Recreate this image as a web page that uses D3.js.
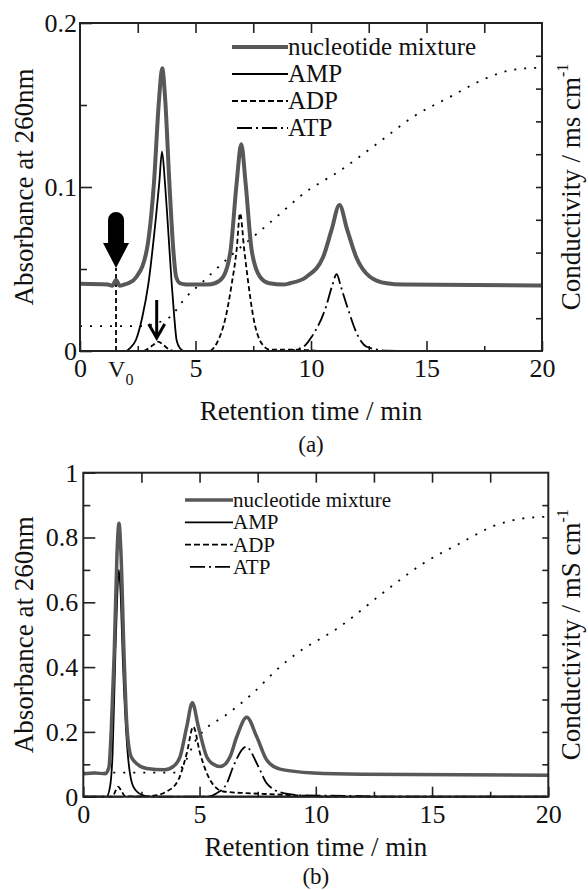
<!DOCTYPE html>
<html>
<head>
<meta charset="utf-8">
<script src="https://cdn.jsdelivr.net/npm/d3@7"></script>
<style>
body { margin: 0; background: #fff; }
svg, svg text { font-family: "Liberation Serif", "Times New Roman", Times, "DejaVu Serif", serif; }
</style>
</head>
<body>
<svg id="chart"></svg>
<script>
const width = 588;
const height = 890;

// ---- panel (a): [retention time (min), absorbance] ----
const mixA = [[0, 0.041], [1.2, 0.0405], [1.4, 0.0398], [1.56, 0.0433], [1.72, 0.0398], [1.9, 0.0405],
    [2.09, 0.0413], [2.45, 0.0453], [2.89, 0.0616], [3.2, 0.1022], [3.42, 0.153], [3.56, 0.1724],
    [3.69, 0.153], [3.87, 0.1022], [4.04, 0.0616], [4.16, 0.0453], [4.33, 0.0413], [4.6, 0.0405],
    [5.5, 0.0405], [5.84, 0.0413], [6.2, 0.0453], [6.52, 0.0616], [6.78, 0.1022], [6.98, 0.126],
    [7.17, 0.1022], [7.43, 0.0616], [7.79, 0.0453], [8.2, 0.0413], [8.8, 0.0405], [9.09, 0.0413],
    [9.81, 0.0453], [10.53, 0.0575], [10.89, 0.0738], [11.23, 0.089], [11.57, 0.0738], [11.95, 0.0575],
    [12.55, 0.0453], [13.27, 0.0413], [14, 0.0405], [20, 0.040]];
const ampA = [[0, 0], [2.0, 0], [2.16, 0.0017], [2.42, 0.0067], [2.7, 0.0209], [2.96, 0.041],
    [3.29, 0.0819], [3.43, 0.1022], [3.55, 0.1215], [3.68, 0.1022], [3.78, 0.0819], [3.97, 0.041],
    [4.08, 0.0209], [4.18, 0.0067], [4.33, 0.0017], [4.5, 0], [20, 0]];
const adpA = [[0, 0], [2.7, 0], [2.9, 0.001], [3.15, 0.0035], [3.38, 0.0057], [3.62, 0.0035],
    [3.85, 0.001], [4.05, 0], [5.6, 0], [5.7, 0.0006], [5.92, 0.0047], [6.31, 0.0209], [6.57, 0.041],
    [6.78, 0.0616], [6.93, 0.084], [7.11, 0.0616], [7.29, 0.041], [7.5, 0.0209], [7.86, 0.0047],
    [8.23, 0.0008], [9.5, 0.0008], [10.5, 0], [20, 0]];
const atpA = [[0, 0], [9.0, 0], [9.09, 0.0002], [9.67, 0.0026], [10.03, 0.0087], [10.65, 0.027],
    [10.9, 0.039], [11.11, 0.0468], [11.3, 0.039], [11.57, 0.027], [12.05, 0.0087], [12.41, 0.0026],
    [13.27, 0.0002], [14.5, 0], [20, 0]];
// conductivity, right axis in tick units (10 divisions, unlabeled)
const condA = [[0, 0.76], [2.8, 0.76], [3.3, 0.85], [3.9, 1.04], [4.6, 1.65], [5.3, 2.1], [5.9, 2.5],
    [6.6, 2.95], [7.7, 3.6], [9.0, 4.39], [9.5, 4.7], [11.3, 5.52], [12.9, 6.34], [14.4, 7.13],
    [16.0, 7.74], [17.6, 8.32], [18.7, 8.57], [19.8, 8.63], [20, 8.63]];

// ---- panel (b) ----
const mixB = [[0, 0.071], [0.5, 0.073], [0.95, 0.071], [1.1, 0.09], [1.2, 0.2], [1.33, 0.443],
    [1.45, 0.751], [1.535, 0.844], [1.62, 0.751], [1.75, 0.443], [1.86, 0.237], [2.01, 0.134],
    [2.15, 0.113], [2.72, 0.087], [3.5, 0.083], [3.9, 0.095], [4.16, 0.123], [4.45, 0.216],
    [4.69, 0.29], [4.95, 0.216], [5.31, 0.123], [5.6, 0.1], [5.88, 0.093], [6.1, 0.1], [6.31, 0.123],
    [6.6, 0.185], [7.03, 0.245], [7.46, 0.185], [7.89, 0.113], [8.46, 0.085], [9.9, 0.073],
    [12, 0.069], [20, 0.066]];
const ampB = [[0, 0], [1.0, 0], [1.15, 0.031], [1.26, 0.134], [1.38, 0.443], [1.46, 0.62],
    [1.53, 0.70], [1.61, 0.62], [1.69, 0.443], [1.91, 0.134], [2.15, 0.031], [2.51, 0.006],
    [2.9, 0], [20, 0]];
const adpB = [[0, 0], [1.25, 0], [1.4, 0.02], [1.5, 0.031], [1.62, 0.02], [1.8, 0.002], [2.5, 0.001],
    [3.01, 0.003], [3.59, 0.016], [4.09, 0.052], [4.45, 0.134], [4.73, 0.216], [5.02, 0.134],
    [5.45, 0.052], [6.02, 0.016], [7.0, 0.011], [8.0, 0.008], [9.5, 0.003], [11, 0], [20, 0]];
const atpB = [[0, 0], [5.3, 0], [5.74, 0.011], [6.17, 0.041], [6.45, 0.093], [7.0, 0.154],
    [7.53, 0.093], [7.89, 0.041], [8.6, 0.011], [9.5, 0.004], [12, 0.002], [13, 0], [20, 0]];
const condB = [[0, 0.74], [4.0, 0.74], [4.4, 1.1], [4.8, 1.7], [5.2, 2.05], [6.1, 2.5], [7.3, 3.2],
    [8.46, 4.01], [9.1, 4.38], [11.04, 5.25], [13.05, 6.38], [14.62, 7.2], [16.2, 7.82],
    [17.78, 8.39], [18.92, 8.59], [20, 8.64]];

// ticks and labels
const xTicks = [0, 5, 10, 15, 20];
const xMinorTicks = [2.5, 7.5, 12.5, 17.5];
const xTopTicks = [2.5, 5, 7.5, 10, 12.5, 15, 17.5];
const yTicksA = [0, 0.1, 0.2];
const yMinorA = [0.05, 0.15];
const yTicksB = [0, 0.2, 0.4, 0.6, 0.8, 1];
const yMinorB = [0.1, 0.3, 0.5, 0.7, 0.9];
const condTicks = [1, 2, 3, 4, 5, 6, 7, 8, 9];
const legendNames = ["nucleotide mixture", "AMP", "ADP", "ATP"];

// V0 marker and arrows in (a)
const v0Time = 1.56;
const v0ArrowTip = 0.0506;
const smallArrow = [3.32, 0.0067];

const FONT = "'Liberation Serif', 'Times New Roman', Times, serif";

const svg = d3.select("#chart").attr("width", width).attr("height", height)
    .attr("font-family", FONT);

const styles = [
    {stroke: "#585858", width: 4, dash: null},
    {stroke: "#000", width: 1.8, dash: null},
    {stroke: "#000", width: 1.8, dash: "5,3"},
    {stroke: "#000", width: 1.8, dash: "15,4,2,4"}
];

function styleAxis(sel, fontSize) {
    sel.attr("font-size", null).attr("font-family", FONT);
    sel.select(".domain").remove();
    sel.selectAll(".tick line").attr("stroke", "#222").attr("stroke-width", 1.6);
    sel.selectAll(".tick text").attr("fill", "#111").style("font-size", fontSize + "px");
}

function addText(g, fontSize) {
    return g.append("text").attr("font-family", FONT)
        .style("font-size", fontSize + "px").attr("fill", "#111");
}

function drawPanel(p) {
    const g = svg.append("g");
    const x = d3.scaleLinear().domain([0, 20]).range([p.left, p.right]);
    const y = d3.scaleLinear().domain([0, p.yMax]).range([p.bottom, p.top]);
    const yc = d3.scaleLinear().domain([0, 10]).range([p.bottom, p.top]);

    // axes, ticks pointing inward
    g.append("g").attr("transform", `translate(0,${p.bottom})`)
        .call(d3.axisBottom(x).tickValues(xTicks).tickSize(-10).tickPadding(8).tickFormat(d3.format("d")))
        .call(s => styleAxis(s, 26));
    g.append("g").attr("transform", `translate(0,${p.bottom})`)
        .call(d3.axisBottom(x).tickValues(xMinorTicks).tickSize(-5).tickFormat(""))
        .call(s => styleAxis(s, 26));
    g.append("g").attr("transform", `translate(0,${p.top})`)
        .call(d3.axisTop(x).tickValues(xTopTicks).tickSize(-10).tickFormat(""))
        .call(s => styleAxis(s, 26));
    g.append("g").attr("transform", `translate(${p.left},0)`)
        .call(d3.axisLeft(y).tickValues(p.yTicks).tickSize(-12).tickPadding(p.yPad).tickFormat(d => String(d)))
        .call(s => styleAxis(s, 26));
    g.append("g").attr("transform", `translate(${p.left},0)`)
        .call(d3.axisLeft(y).tickValues(p.yMinor).tickSize(-7).tickFormat(""))
        .call(s => styleAxis(s, 26));
    g.append("g").attr("transform", `translate(${p.right},0)`)
        .call(d3.axisRight(yc).tickValues(condTicks).tickSize(-6).tickFormat(""))
        .call(s => styleAxis(s, 26));

    const line = d3.line().x(d => x(d[0])).y(d => y(d[1])).curve(d3.curveMonotoneX);
    const condLine = d3.line().x(d => x(d[0])).y(d => yc(d[1])).curve(d3.curveMonotoneX);

    g.append("path").datum(p.cond)
        .attr("fill", "none").attr("stroke", "#000").attr("stroke-width", 1.8)
        .attr("stroke-dasharray", "2,8").attr("d", condLine);

    if (p.annot) p.annot(g, x, y);

    const series = [p.mix, p.amp, p.adp, p.atp];
    [3, 2, 1, 0].forEach(i => {
        g.append("path").datum(series[i])
            .attr("fill", "none")
            .attr("stroke", styles[i].stroke)
            .attr("stroke-width", i === 0 ? p.mixWidth : styles[i].width)
            .attr("stroke-dasharray", styles[i].dash)
            .attr("stroke-linejoin", "round")
            .attr("d", line);
    });

    // frame
    g.append("rect")
        .attr("x", p.left).attr("y", p.top)
        .attr("width", p.right - p.left).attr("height", p.bottom - p.top)
        .attr("fill", "none").attr("stroke", "#222").attr("stroke-width", 2);

    // legend
    legendNames.forEach((name, i) => {
        const ly = p.legY + i * p.legStep;
        g.append("line")
            .attr("x1", p.legX1 + (i === 3 ? 5 : 0)).attr("x2", p.legX2)
            .attr("y1", ly).attr("y2", ly)
            .attr("stroke", styles[i].stroke)
            .attr("stroke-width", i === 0 ? p.mixWidth : styles[i].width)
            .attr("stroke-dasharray", i === 2 ? "6,3" : styles[i].dash);
        addText(g, p.legFont)
            .attr("x", p.legX2).attr("y", ly + p.legFont * 0.33)
            .text(name);
    });

    // axis titles
    const cx = (p.left + p.right) / 2;
    const cy = (p.top + p.bottom) / 2;
    addText(g, 27).attr("x", cx).attr("y", p.xTitleY)
        .attr("text-anchor", "middle")
        .text("Retention time / min");
    addText(g, 27).attr("transform", `translate(33,${cy}) rotate(-90)`)
        .attr("text-anchor", "middle")
        .text("Absorbance at 260nm");
    const rt = addText(g, 27).attr("transform", `translate(580,${cy}) rotate(-90)`)
        .attr("text-anchor", "middle");
    rt.append("tspan").text(p.condLabel);
    rt.append("tspan").attr("dy", -12).style("font-size", "16px").text("-1");
    addText(g, 23).attr("x", cx).attr("y", p.panelY)
        .attr("text-anchor", "middle")
        .text(p.panel);
}

drawPanel({
    left: 80, right: 542, top: 23, bottom: 351, yMax: 0.2,
    yTicks: yTicksA, yMinor: yMinorA, yPad: 3,
    mix: mixA, amp: ampA, adp: adpA, atp: atpA, cond: condA, mixWidth: 4,
    legX1: 232, legX2: 288, legY: 47, legStep: 27, legFont: 25,
    xTitleY: 420, panelY: 452, panel: "(a)",
    condLabel: "Conductivity / ms cm",
    annot: (g, x, y) => {
        const vx = x(v0Time);
        // dashed V0 marker
        g.append("line").attr("x1", vx).attr("x2", vx)
            .attr("y1", y(0)).attr("y2", y(v0ArrowTip))
            .attr("stroke", "#000").attr("stroke-width", 1.8).attr("stroke-dasharray", "5,3");
        // big arrow
        const ty = y(v0ArrowTip);
        g.append("path")
            .attr("d", `M${vx},${ty} L${vx - 13},${ty - 25} L${vx - 8},${ty - 25} L${vx - 8},${ty - 48}
                A8,8 0 0 1 ${vx + 8},${ty - 48} L${vx + 8},${ty - 25} L${vx + 13},${ty - 25} Z`)
            .attr("fill", "#000");
        // small arrow
        const sx = x(smallArrow[0]), sy = y(smallArrow[1]);
        g.append("path")
            .attr("d", `M${sx},${sy - 40} L${sx},${sy - 2} M${sx - 8},${sy - 16} L${sx},${sy - 2} L${sx + 8},${sy - 16}`)
            .attr("fill", "none").attr("stroke", "#000").attr("stroke-width", 3);
        // V0 label
        const lab = addText(g, 24).attr("x", vx - 8).attr("y", 377);
        lab.append("tspan").text("V");
        lab.append("tspan").attr("dy", 8).style("font-size", "16px").text("0");
    }
});

drawPanel({
    left: 83.3, right: 548.3, top: 472.7, bottom: 796.7, yMax: 1,
    yTicks: yTicksB, yMinor: yMinorB, yPad: 5,
    mix: mixB, amp: ampB, adp: adpB, atp: atpB, cond: condB, mixWidth: 3.5,
    legX1: 185, legX2: 233, legY: 500, legStep: 22.3, legFont: 21,
    xTitleY: 856, panelY: 884, panel: "(b)",
    condLabel: "Conductivity / mS cm"
});
</script>
</body>
</html>
